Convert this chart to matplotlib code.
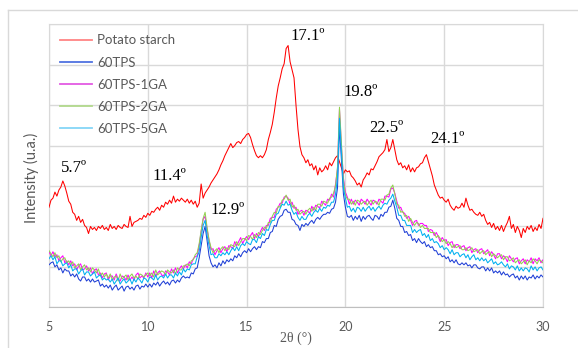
import numpy as np
import matplotlib
matplotlib.use('Agg')
import matplotlib.pyplot as plt
from matplotlib.lines import Line2D

# 2theta scan, 0.1 degree step from 5 to 30
two_theta = np.round(np.arange(50, 301) / 10.0, 1)

series_names = ['Potato starch', '60TPS', '60TPS-1GA', '60TPS-2GA', '60TPS-5GA']

potato_starch = [
    99, 106, 108, 114, 110, 116, 119, 125, 120, 113,
    105, 102, 94, 92, 86, 90, 84, 87, 81, 79,
    73, 80, 77, 79, 76, 80, 78, 81, 77, 79,
    76, 82, 78, 80, 77, 81, 79, 78, 82, 80,
    79, 90, 80, 84, 85, 86, 88, 87, 91, 89,
    93, 91, 95, 94, 97, 99, 96, 101, 99, 104,
    102, 106, 103, 110, 104, 107, 105, 108, 106, 104,
    107, 103, 106, 102, 105, 99, 103, 122, 108, 113,
    116, 119, 123, 126, 129, 132, 136, 141, 145, 150,
    154, 158, 162, 158, 160, 163, 164, 162, 166, 168,
    171, 172, 168, 161, 155, 150, 148, 150, 148, 151,
    156, 166, 173, 181, 193, 207, 219, 227, 236, 241,
    256, 259, 243, 235, 227, 200, 176, 159, 151, 148,
    143, 146, 140, 142, 136, 140, 131, 138, 134, 136,
    140, 136, 143, 140, 144, 148, 150, 144, 138, 132,
    136, 134, 135, 130, 128, 125, 121, 123, 119, 126,
    129, 133, 131, 137, 136, 140, 144, 149, 151, 153,
    156, 166, 154, 158, 166, 156, 146, 141, 143, 138,
    140, 136, 141, 134, 138, 134, 138, 139, 142, 143,
    148, 151, 144, 137, 130, 121, 116, 111, 108, 109,
    106, 104, 107, 101, 98, 96, 100, 98, 99, 103,
    99, 108, 101, 96, 97, 94, 92, 91, 94, 90,
    92, 86, 82, 84, 79, 83, 77, 80, 76, 81,
    75, 80, 84, 90, 78, 82, 74, 80, 76, 69,
    78, 74, 80, 77, 81, 75, 79, 76, 82, 78,
    88]

tps60 = [
    42, 44, 45, 40, 42, 37, 39, 34, 38, 36,
    36, 31, 33, 30, 33, 28, 26, 30, 30, 26,
    28, 25, 28, 25, 26, 27, 21, 23, 20, 22,
    19, 22, 17, 20, 22, 17, 19, 21, 16, 20,
    21, 18, 20, 17, 21, 22, 18, 21, 20, 23,
    20, 23, 20, 24, 22, 25, 21, 24, 26, 23,
    25, 22, 26, 27, 24, 27, 25, 29, 31, 29,
    30, 29, 34, 33, 38, 39, 49, 61, 73, 80,
    66, 51, 44, 40, 42, 39, 44, 41, 46, 43,
    47, 45, 48, 46, 51, 49, 53, 50, 54, 56,
    54, 58, 55, 58, 60, 57, 60, 59, 65, 64,
    68, 68, 74, 75, 81, 80, 87, 90, 91, 96,
    97, 94, 94, 87, 86, 82, 81, 76, 82, 80,
    83, 81, 84, 86, 83, 87, 89, 87, 90, 92,
    92, 94, 93, 97, 98, 104, 118, 179, 145, 112,
    99, 90, 89, 91, 86, 90, 87, 91, 85, 90,
    87, 90, 91, 88, 86, 91, 90, 87, 92, 90,
    94, 94, 99, 100, 106, 98, 88, 86, 80, 80,
    74, 75, 71, 72, 66, 68, 64, 68, 65, 63,
    65, 60, 62, 59, 60, 56, 56, 52, 53, 50,
    51, 48, 50, 45, 47, 44, 47, 43, 42, 44,
    42, 44, 41, 42, 39, 42, 42, 39, 38, 40,
    40, 36, 39, 36, 39, 34, 36, 34, 36, 32,
    35, 32, 33, 30, 32, 33, 29, 31, 27, 31,
    28, 31, 27, 30, 29, 32, 28, 31, 29, 32,
    30]

tps60_1ga = [
    55, 51, 55, 50, 52, 46, 49, 51, 44, 46,
    42, 46, 41, 43, 37, 41, 43, 37, 38, 41,
    36, 39, 33, 37, 38, 32, 34, 29, 33, 34,
    27, 31, 31, 27, 33, 28, 26, 31, 30, 27,
    32, 27, 30, 27, 32, 34, 29, 31, 29, 34,
    30, 34, 29, 36, 31, 34, 36, 32, 31, 36,
    35, 32, 38, 34, 39, 34, 38, 41, 38, 42,
    39, 45, 43, 48, 50, 51, 61, 75, 87, 90,
    77, 66, 57, 58, 52, 56, 59, 54, 58, 60,
    55, 61, 60, 58, 65, 61, 65, 69, 63, 67,
    70, 67, 71, 74, 68, 73, 70, 75, 79, 76,
    81, 81, 88, 89, 89, 97, 99, 103, 103, 109,
    110, 108, 102, 104, 98, 99, 92, 95, 96, 91,
    96, 95, 93, 100, 96, 101, 100, 98, 105, 103,
    101, 107, 106, 112, 109, 122, 137, 196, 158, 128,
    114, 109, 102, 107, 102, 106, 104, 101, 107, 105,
    102, 107, 104, 101, 106, 105, 102, 107, 105, 103,
    110, 110, 109, 117, 118, 113, 105, 98, 99, 94,
    93, 88, 90, 86, 81, 85, 86, 81, 83, 83,
    81, 81, 75, 77, 76, 71, 74, 70, 65, 69,
    66, 67, 61, 64, 65, 59, 62, 62, 58, 60,
    61, 56, 59, 60, 54, 57, 58, 54, 57, 58,
    53, 55, 57, 51, 55, 52, 48, 53, 53, 48,
    51, 49, 45, 51, 48, 45, 48, 49, 43, 46,
    48, 43, 47, 45, 49, 43, 48, 46, 49, 44,
    47]

tps60_2ga = [
    56, 53, 50, 54, 49, 51, 45, 48, 49, 44,
    46, 42, 45, 39, 41, 43, 37, 40, 42, 37,
    39, 35, 39, 37, 34, 38, 31, 34, 30, 33,
    29, 33, 27, 30, 31, 26, 33, 28, 30, 32,
    27, 31, 33, 29, 31, 28, 33, 32, 30, 32,
    34, 31, 34, 30, 37, 32, 34, 36, 35, 32,
    37, 35, 34, 37, 33, 39, 37, 37, 41, 41,
    43, 41, 46, 47, 52, 54, 63, 76, 88, 94,
    79, 67, 59, 54, 56, 58, 54, 58, 60, 56,
    59, 57, 62, 61, 60, 65, 61, 65, 68, 68,
    66, 71, 70, 67, 72, 69, 74, 72, 76, 79,
    78, 84, 84, 90, 94, 93, 100, 99, 106, 107,
    111, 106, 107, 99, 101, 96, 97, 92, 94, 95,
    92, 96, 98, 95, 99, 96, 102, 102, 100, 105,
    104, 103, 108, 109, 113, 120, 139, 198, 162, 126,
    111, 107, 107, 102, 105, 101, 106, 105, 102, 104,
    105, 101, 104, 106, 102, 105, 104, 101, 107, 107,
    106, 111, 112, 118, 121, 112, 102, 101, 94, 95,
    90, 91, 85, 88, 84, 81, 84, 83, 79, 81,
    78, 78, 78, 74, 74, 74, 69, 71, 68, 65,
    67, 63, 65, 63, 59, 62, 59, 60, 61, 57,
    57, 59, 56, 57, 59, 55, 56, 57, 53, 55,
    56, 52, 54, 55, 50, 53, 51, 49, 51, 52,
    47, 50, 50, 46, 47, 49, 44, 46, 47, 43,
    45, 47, 42, 46, 44, 48, 46, 43, 47, 46,
    44]

tps60_5ga = [
    48, 51, 47, 50, 43, 46, 46, 41, 43, 44,
    39, 42, 36, 38, 38, 33, 36, 38, 32, 35,
    35, 31, 33, 35, 29, 31, 32, 27, 29, 27,
    28, 25, 28, 23, 26, 29, 23, 26, 28, 24,
    26, 28, 23, 28, 25, 29, 27, 24, 29, 28,
    25, 30, 29, 27, 32, 27, 30, 31, 29, 33,
    29, 32, 32, 29, 34, 31, 35, 32, 38, 35,
    38, 37, 42, 43, 43, 50, 55, 69, 81, 86,
    71, 61, 52, 53, 49, 49, 53, 51, 54, 52,
    55, 52, 56, 59, 56, 60, 56, 61, 63, 61,
    65, 63, 62, 67, 67, 64, 70, 68, 73, 71,
    77, 76, 82, 86, 86, 92, 93, 98, 102, 101,
    105, 101, 102, 96, 92, 94, 89, 86, 90, 87,
    87, 91, 93, 90, 94, 96, 94, 98, 95, 99,
    98, 101, 100, 104, 104, 112, 128, 187, 152, 118,
    108, 99, 100, 95, 98, 94, 99, 98, 95, 99,
    95, 98, 100, 96, 99, 95, 98, 100, 97, 101,
    103, 102, 106, 108, 112, 105, 99, 91, 91, 86,
    86, 81, 81, 81, 74, 77, 74, 76, 77, 71,
    73, 69, 72, 66, 68, 64, 65, 63, 59, 61,
    57, 59, 57, 53, 57, 52, 54, 54, 50, 52,
    53, 49, 52, 47, 50, 52, 47, 49, 46, 49,
    46, 48, 44, 46, 48, 43, 45, 42, 43, 45,
    42, 40, 43, 38, 41, 40, 37, 41, 36, 39,
    36, 39, 38, 35, 41, 37, 40, 36, 39, 40,
    37]

peak_labels = ['5.7º', '11.4º', '12.9º', '17.1º', '19.8º', '22.5º', '24.1º']

colors = ['#ff0000', '#1f3fd6', '#ff00ff', '#92d050', '#00b0f0']
legend_colors = ['#ff8585', '#4f72e0', '#e35ae3', '#b2d98c', '#85d6f7']

SANS = ['Lato', 'DejaVu Sans']
SERIF = ['Liberation Serif', 'DejaVu Serif']
GREY = '#595959'


def plotXrd():
    plt.rcParams['font.family'] = SANS
    fig = plt.figure(figsize=(5.78, 3.48), dpi=100)
    ax = fig.add_axes([49 / 578, 1 - 307.3 / 348, 494 / 578, 283 / 348])

    # outer chart frame, cut off at the right and bottom
    fig.add_artist(Line2D([8 / 578, 8 / 578], [0, 1 - 9.5 / 348],
                          color='#d9d9d9', lw=1, transform=fig.transFigure))
    fig.add_artist(Line2D([8 / 578, 1], [1 - 9.5 / 348, 1 - 9.5 / 348],
                          color='#d9d9d9', lw=1, transform=fig.transFigure))

    data = [potato_starch, tps60, tps60_1ga, tps60_2ga, tps60_5ga]
    for y, c in zip(data, colors):
        ax.plot(two_theta, y, color=c, lw=0.75, zorder=3)

    ax.set_xlim(5, 30)
    ax.set_ylim(0, 280)
    ax.set_xticks([5, 10, 15, 20, 25, 30])
    ax.set_yticks(np.arange(0, 281, 40))
    ax.set_yticklabels([])
    ax.tick_params(axis='both', length=0)
    ax.tick_params(axis='x', pad=10, labelsize=9, labelcolor=GREY)
    ax.grid(True, color='#d9d9d9', lw=1)
    ax.set_axisbelow(True)
    for s in ax.spines.values():
        s.set_color('#d9d9d9')
    ax.spines['bottom'].set_color('#bfbfbf')

    # peak positions
    label_pos = [(5.6, 138), (10.26, 130), (13.15, 96), (17.2, 268),
                 (19.88, 213), (21.2, 177), (24.28, 167)]
    for txt, (x, y) in zip(peak_labels, label_pos):
        ax.text(x, y, txt, family=SERIF, fontsize=12, color='black',
                ha='left', va='center', zorder=4)

    handles = [Line2D([], [], color=c, lw=1.3) for c in legend_colors]
    ax.legend(handles, series_names, loc='upper left', frameon=False,
              bbox_to_anchor=(60 / 578, 1 - 34.5 / 348), bbox_transform=fig.transFigure,
              borderpad=0, borderaxespad=0, fontsize=9.5, handlelength=2.4,
              handletextpad=0.4, labelspacing=0.76, labelcolor=GREY)

    fig.text(31 / 578, 1 - 178 / 348, 'Intensity (u.a.)', rotation=90,
             ha='center', va='center', fontsize=10.5, color=GREY)
    fig.text(296 / 578, 1 - 338 / 348, '2θ (°)', family=SERIF,
             ha='center', va='center', fontsize=10, color=GREY)

    fig.savefig('out.png', dpi=100)


if __name__ == '__main__':
    plotXrd()
